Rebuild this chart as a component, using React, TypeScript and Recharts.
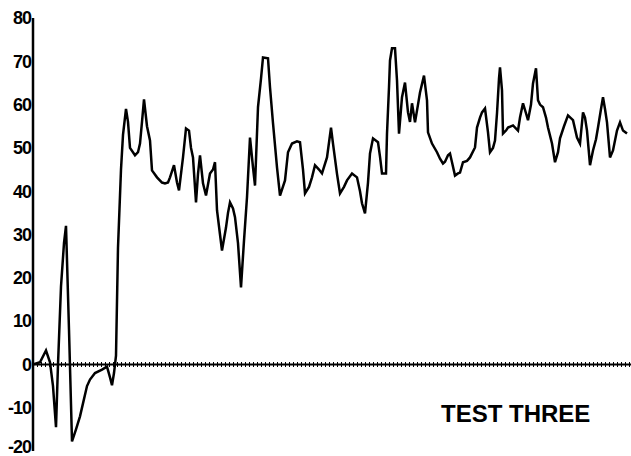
import React from "react";
import { LineChart, Line, XAxis, YAxis, ReferenceLine } from "recharts";

// sample index along the run
const t = [
  0, 7, 13, 17, 20, 23, 25, 28, 31, 33,
  36, 39, 43, 47, 50, 54, 57, 62, 69, 74,
  77, 79, 81, 83, 85, 88, 90, 93, 95, 97,
  102, 105, 107, 109, 111, 114, 117, 119, 124, 129,
  132, 135, 137, 141, 144, 146, 150, 153, 156, 158,
  160, 163, 165, 167, 170, 173, 177, 180, 182, 184,
  187, 189, 193, 195, 197, 200, 202, 205, 208, 211,
  214, 217, 220, 222, 225, 228, 230, 235, 237, 240,
  244, 247, 252, 255, 259, 264, 267, 270, 272, 276,
  279, 282, 286, 289, 294, 298, 300, 304, 307, 311,
  314, 319, 324, 327, 329, 332, 335, 337, 340, 345,
  347, 349, 353, 354, 356, 357, 359, 362, 364, 366,
  369, 372, 375, 377, 379, 382, 385, 387, 391, 394,
  395, 399, 404, 407, 410, 412, 415, 417, 419, 422,
  425, 427, 430, 434, 437, 442, 444, 447, 449, 452,
  455, 457, 460, 462, 464, 466, 467, 469, 470, 473,
  475, 480, 485, 487, 490, 493, 495, 498, 500, 503,
  505, 507, 510, 513, 515, 519, 522, 525, 527, 531,
  535, 540, 544, 547, 550, 552, 554, 557, 560, 563,
  565, 568, 570, 572, 574, 577, 580, 584, 587, 590,
  594,
];

const testThree = [
  0, 0.5, 3.2, 0.5, -5, -14.5, 0, 18, 28, 32,
  8, -17.8, -15, -12, -9, -5, -3.5, -2, -1.2, -0.5,
  -3, -4.8, -2, 2, 27, 45, 53, 59, 56, 50,
  48.3, 49, 51, 56, 61.2, 55, 51.7, 44.8, 43.2, 42,
  41.8, 42, 43.2, 46, 42, 40.2, 47.8, 54.5, 54, 50,
  47.8, 37.4, 44, 48.3, 41.8, 39, 44.1, 45, 46.7, 35.6,
  30, 26.3, 31.6, 35, 37.4, 36, 34, 28, 17.8, 28.6,
  38.6, 52.4, 45.5, 41.3, 59.4, 66, 70.9, 70.7, 64, 55.7,
  45.5, 39, 42.5, 49, 51, 51.5, 51.3, 45, 39.5, 41,
  43.2, 46, 45, 44.1, 47.8, 54.7, 51, 44, 39.5, 41,
  42.5, 44.1, 43.2, 40, 37.2, 34.9, 42, 48.7, 52.2, 51.3,
  48, 44.1, 44.1, 53.3, 64, 70.2, 73, 73, 65.6, 53.3,
  61.7, 65.1, 58.2, 56, 60.3, 55.9, 60, 62.8, 66.7, 61,
  53.6, 51, 49, 47.5, 46.4, 46.8, 48.3, 48.7, 46.7, 43.6,
  44.1, 44.3, 46.7, 47, 47.8, 50.1, 54.7, 57, 58.2, 59.1,
  53.6, 49, 50, 51.7, 58, 66, 68.6, 63.3, 53.3, 54,
  54.7, 55.2, 54, 57, 60.3, 58, 56.4, 60, 64.9, 68.4,
  61, 60, 59.4, 57, 54.7, 51, 46.7, 49, 52.2, 55,
  57.5, 56.4, 52.4, 51, 58.2, 57, 54, 46, 49.4, 52,
  54.7, 59, 61.7, 59, 55.9, 47.8, 49.4, 54, 55.9, 54,
  53.3,
];

const yTicks = [-20, -10, 0, 10, 20, 30, 40, 50, 60, 70, 80];

const data = t.map((x, i) => ({ t: x, value: testThree[i] }));

// bottom label sits a bit higher so it stays on the page
function YTick(props: any) {
  const { x, y, payload } = props;
  const lift = payload.value === -20 ? -4 : 0;
  return (
    <text
      x={x}
      y={y + lift}
      dy="0.355em"
      textAnchor="end"
      fill="#000"
      fontSize={18}
      fontWeight={700}
      fontFamily="Liberation Sans, Arial, sans-serif"
      letterSpacing={-1}
    >
      {payload.value}
    </text>
  );
}

export default function App() {
  return (
    <div style={{ position: "relative", width: 631, height: 456, background: "#fff" }}>
      <style>{"body{margin:0}"}</style>
      <LineChart
        width={631}
        height={456}
        data={data}
        margin={{ top: 18, right: 0, left: 0, bottom: 5 }}
      >
        <XAxis dataKey="t" type="number" domain={[0, 598]} hide />
        <YAxis
          type="number"
          domain={[-20, 80]}
          ticks={yTicks}
          width={33}
          interval={0}
          tickLine={false}
          tickSize={0}
          tickMargin={2}
          axisLine={{ stroke: "#000", strokeWidth: 2.5 }}
          tick={<YTick />}
        />
        <ReferenceLine y={0} stroke="#000" strokeWidth={2} />
        <ReferenceLine y={0} stroke="#000" strokeWidth={5} strokeDasharray="1 3" />
        <Line
          type="linear"
          dataKey="value"
          stroke="#000"
          strokeWidth={2.5}
          dot={false}
          isAnimationActive={false}
        />
      </LineChart>
      <svg
        width={631}
        height={456}
        style={{ position: "absolute", left: 0, top: 0, pointerEvents: "none" }}
      >
        <text
          x={441}
          y={422}
          fontSize={24}
          fontWeight={700}
          fontFamily="Liberation Sans, Arial, sans-serif"
          fill="#000"
        >
          TEST THREE
        </text>
      </svg>
    </div>
  );
}
